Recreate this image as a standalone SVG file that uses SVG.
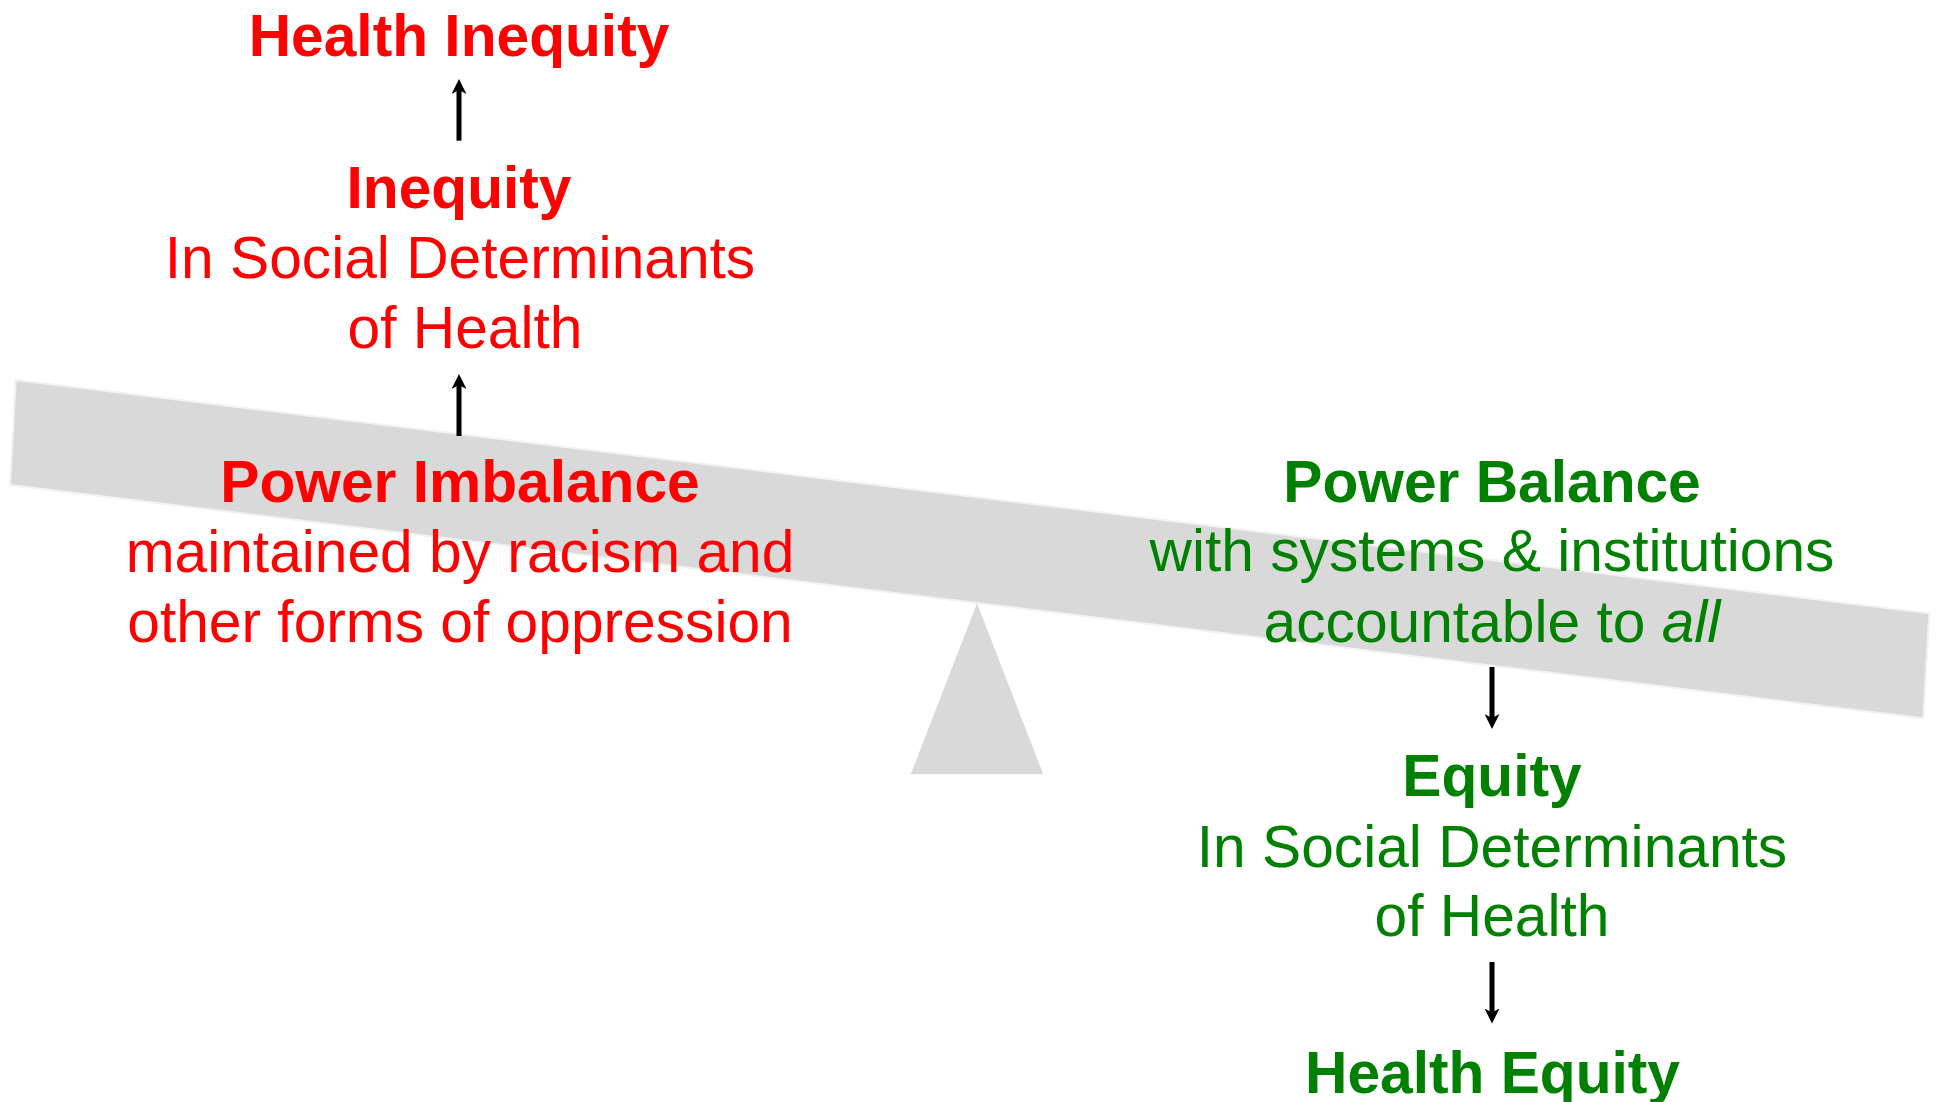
<svg xmlns="http://www.w3.org/2000/svg" width="1939" height="1102" viewBox="0 0 1939 1102">
<style>
text{font-family:"Liberation Sans",Arial,sans-serif;font-size:58.7px;text-anchor:middle}
.b{font-weight:bold}
.red{fill:#FF0000}
.grn{fill:#008000}
.shape{fill:#D9D9D9}
.conn{stroke:#000;stroke-width:5;fill:none}
</style>
<defs>
<marker id="ah" viewBox="0 0 15 15" refX="4" refY="7.5" markerWidth="15" markerHeight="15" markerUnits="userSpaceOnUse" orient="auto">
<path d="M0,0 L15,7.5 L0,15 L4,7.5 z" fill="#000"/>
</marker>
</defs>
<rect width="1939" height="1102" fill="#fff"/>
<g id="seesaw">
<polygon id="fulcrum" class="shape" points="977,603.3 1043.3,774.3 910.7,774.3"/>
<polygon id="beam" class="shape" points="15.7,380 1929.3,613.3 1923.3,718.3 10,485" stroke="#F2F2F2" stroke-width="2"/>
</g>
<g id="connectors">
<line class="conn" x1="459" y1="140.7" x2="459" y2="90" marker-end="url(#ah)"/>
<line class="conn" x1="459" y1="436" x2="459" y2="385" marker-end="url(#ah)"/>
<line class="conn" x1="1492" y1="667" x2="1492" y2="718" marker-end="url(#ah)"/>
<line class="conn" x1="1492" y1="962" x2="1492" y2="1012.5" marker-end="url(#ah)"/>
</g>
<g id="health-inequity">
<text class="b red" x="459" y="56">Health Inequity</text>
</g>
<g id="inequity-sdoh">
<text class="b red" x="459" y="208">Inequity</text>
<text class="red" x="460" y="277.6">In Social Determinants</text>
<text class="red" x="465" y="348">of Health</text>
</g>
<g id="power-imbalance">
<text class="b red" x="460" y="501.5">Power Imbalance</text>
<text class="red" x="460" y="571.7">maintained by racism and</text>
<text class="red" x="460" y="641.7">other forms of oppression</text>
</g>
<g id="power-balance">
<text class="b grn" x="1492" y="502">Power Balance</text>
<text class="grn" x="1492" y="571.4">with systems &amp; institutions</text>
<text class="grn" x="1492" y="641.7">accountable to <tspan font-style="italic">all</tspan></text>
</g>
<g id="equity-sdoh">
<text class="b grn" x="1492" y="796">Equity</text>
<text class="grn" x="1492" y="867">In Social Determinants</text>
<text class="grn" x="1492" y="936">of Health</text>
</g>
<g id="health-equity">
<text class="b grn" x="1492.5" y="1092.7">Health Equity</text>
</g>
</svg>
